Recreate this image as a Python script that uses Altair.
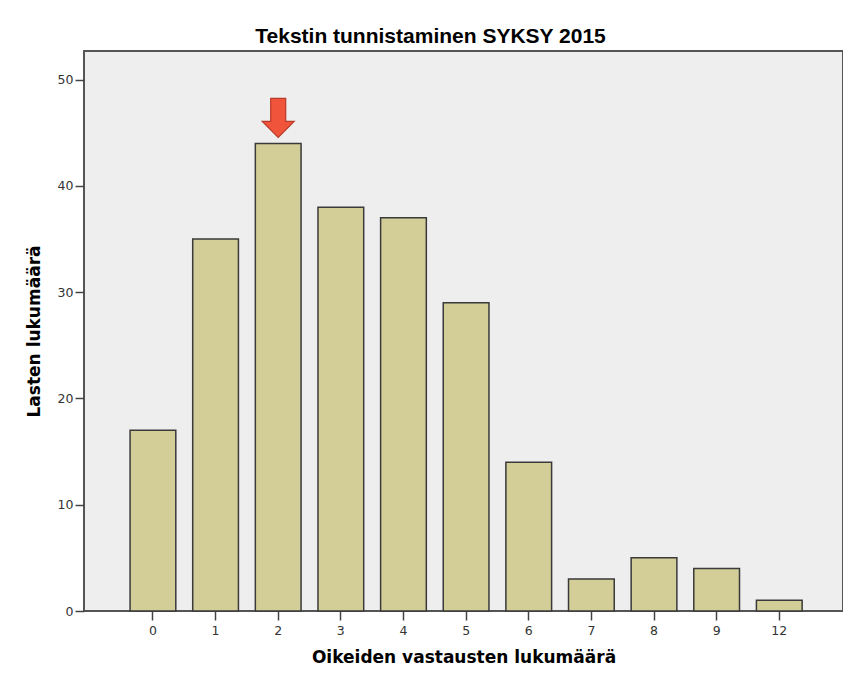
import altair as alt
import pandas as pd

categories = ["0", "1", "2", "3", "4", "5", "6", "7", "8", "9", "12"]
counts = [17, 35, 44, 38, 37, 29, 14, 3, 5, 4, 1]

arrow_category = ["2"]
arrow_level = [46.4]

df = pd.DataFrame({"cat": categories, "n": counts})
arrow_df = pd.DataFrame({"cat": arrow_category, "n": arrow_level})

TFONT = "Liberation Sans"
AFONT = "DejaVu Sans"

xscale = alt.Scale(domain=categories, paddingInner=0.27, paddingOuter=0.694, align=0.53)
yscale = alt.Scale(domain=[0, 52.7], nice=False, zero=True)

bars = alt.Chart(df).mark_bar(
    color="#d3ce97", stroke="#3a3a3a", strokeWidth=1.5
).encode(
    x=alt.X("cat:N", scale=xscale, sort=categories,
            axis=alt.Axis(title="Oikeiden vastausten lukumäärä", labelAngle=0,
                          labelFontSize=12.5, labelColor="#333333", labelFont=AFONT,
                          tickSize=9, tickColor="#444444", tickWidth=1.5,
                          domain=False, labelPadding=4,
                          titleFont=AFONT, titleFontSize=17, titleFontWeight="bold",
                          titleColor="#000000", titlePadding=13)),
    y=alt.Y("n:Q", scale=yscale,
            axis=alt.Axis(title="Lasten lukumäärä", values=[0, 10, 20, 30, 40, 50],
                          grid=False, labelFontSize=12.5, labelColor="#333333",
                          labelFont=AFONT, tickSize=9, tickColor="#444444",
                          tickWidth=1.5, domain=False, labelPadding=2,
                          titleFont=AFONT, titleFontSize=17, titleFontWeight="bold",
                          titleColor="#000000", titlePadding=14)),
)

arrow_path = "M -0.385 -1 L 0.385 -1 L 0.385 0.18 L 0.82 0.18 L 0 1 L -0.82 0.18 L -0.385 0.18 Z"
arrow = alt.Chart(arrow_df).mark_point(
    shape=arrow_path, size=1521, filled=True, fill="#f0553c",
    stroke="#b83a28", strokeWidth=1.2, opacity=1
).encode(
    x=alt.X("cat:N", scale=xscale, sort=categories),
    y=alt.Y("n:Q", scale=yscale),
)

chart = (bars + arrow).properties(
    width=759,
    height=560,
    autosize=alt.AutoSizeParams(type="none"),
    padding={"left": 76, "top": 43, "right": 0, "bottom": 69},
    background="white",
    title=alt.TitleParams(
        "Tekstin tunnistaminen SYKSY 2015", font=TFONT, fontSize=21,
        fontWeight="bold", color="#000000", anchor="middle", dx=-33,
        offset=8, dy=21, baseline="alphabetic"),
).configure_view(
    fill="#eeeeee", stroke="#555555", strokeWidth=2
)

chart.save("out.html", embed_options={"renderer": "svg", "actions": False})
